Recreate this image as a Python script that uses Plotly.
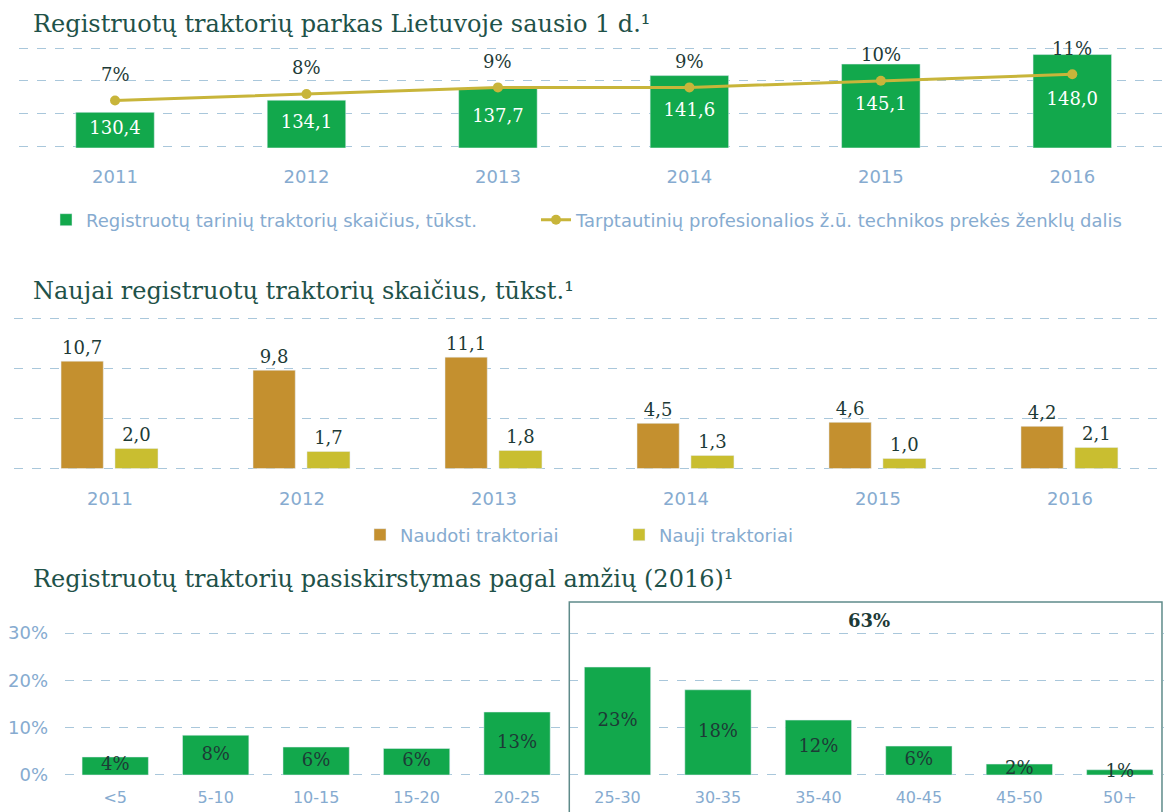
import plotly.graph_objects as go

# ---------------- data ----------------
years = ["2011", "2012", "2013", "2014", "2015", "2016"]
fleet_k = [130.4, 134.1, 137.7, 141.6, 145.1, 148.0]
intl_share = [7, 8, 9, 9, 10, 11]

used_k = [10.7, 9.8, 11.1, 4.5, 4.6, 4.2]
new_k = [2.0, 1.7, 1.8, 1.3, 1.0, 2.1]

age_groups = ["<5", "5-10", "10-15", "15-20", "20-25", "25-30", "30-35", "35-40", "40-45", "45-50", "50+"]
age_share = [3.8, 8.4, 5.9, 5.6, 13.3, 22.8, 18.0, 11.6, 6.1, 2.3, 1.1]
age_ticks = [0, 10, 20, 30]
age_tick_labels = ["0%", "10%", "20%", "30%"]
old_total_label = "63%"

title1 = "Registruotų traktorių parkas Lietuvoje sausio 1 d.¹"
title2 = "Naujai registruotų traktorių skaičius, tūkst.¹"
title3 = "Registruotų traktorių pasiskirstymas pagal amžių (2016)¹"
leg_fleet = "Registruotų tarinių traktorių skaičius, tūkst."
leg_share = "Tarptautinių profesionalios ž.ū. technikos prekės ženklų dalis"
leg_used = "Naudoti traktoriai"
leg_new = "Nauji traktoriai"

# ---------------- style ----------------
BODY = 8                     # default page margin around the figure
FW, FH = 1156, 808
GREEN = "#12a84c"
LINE = "#c8b53a"
BROWN = "#c4902f"
YELLOW = "#c9be30"
GRID = "#a9c7db"
TICK = "#86abd0"
TITLE = "#1f5249"
DARK = "#1d3a36"
SERIF = "DejaVu Serif"
SANS = "DejaVu Sans"
Y1_MIN = 120

def fmt(v):
    return f"{v:.1f}".replace(".", ",")

def px_x(sx):
    return (sx - BODY) / FW

def px_y(sy):
    return 1 - (sy - BODY) / FH

fig = go.Figure()

# --- chart 1 ---
fig.add_trace(go.Bar(x=years, y=fleet_k, marker_color=GREEN, width=0.41,
                     name=leg_fleet, xaxis="x", yaxis="y", legend="legend"))
fig.add_trace(go.Scatter(x=years, y=[(Y1_MIN + v) / 2 for v in fleet_k], mode="text",
                         text=[fmt(v) for v in fleet_k], textfont=dict(family=SERIF, size=18, color="white"),
                         xaxis="x", yaxis="y", showlegend=False, cliponaxis=False, hoverinfo="skip"))
fig.add_trace(go.Scatter(x=years, y=intl_share, mode="lines+markers", name=leg_share,
                         line=dict(color=LINE, width=3), marker=dict(color=LINE, size=10),
                         xaxis="x", yaxis="y2", legend="legend3"))

# --- chart 2 ---
fig.add_trace(go.Bar(x=years, y=used_k, marker_color=BROWN, width=0.22, offset=-0.255,
                     text=[fmt(v) for v in used_k], textposition="outside",
                     textfont=dict(family=SERIF, size=18, color=DARK),
                     name=leg_used, xaxis="x2", yaxis="y3", legend="legend2", cliponaxis=False))
fig.add_trace(go.Bar(x=years, y=new_k, marker_color=YELLOW, width=0.224, offset=0.026,
                     text=[fmt(v) for v in new_k], textposition="outside",
                     textfont=dict(family=SERIF, size=18, color=DARK),
                     name=leg_new, xaxis="x2", yaxis="y3", legend="legend2", cliponaxis=False))

# --- chart 3 ---
fig.add_trace(go.Bar(x=age_groups, y=age_share, marker_color=GREEN, width=0.66,
                     xaxis="x3", yaxis="y4", showlegend=False))
fig.add_trace(go.Scatter(x=age_groups, y=[v / 2 for v in age_share], mode="text",
                         text=[f"{round(v)}%" for v in age_share],
                         textfont=dict(family=SERIF, size=18, color=DARK),
                         xaxis="x3", yaxis="y4", showlegend=False, cliponaxis=False, hoverinfo="skip"))

grid_common = dict(showgrid=True, gridcolor=GRID, griddash="dash", gridwidth=1.3,
                   zeroline=False, showline=False, ticks="", fixedrange=True)
x_common = dict(type="category", showgrid=False, zeroline=False, showline=False, ticks="",
                tickfont=dict(family=SANS, size=18, color=TICK))
leg_common = dict(orientation="h", xanchor="left", yanchor="middle",
                  font=dict(family=SANS, size=18, color=TICK), bgcolor="rgba(0,0,0,0)")

fig.update_layout(
    width=FW, height=FH, margin=dict(l=0, r=0, t=0, b=0, autoexpand=False),
    paper_bgcolor="white", plot_bgcolor="white",
    barmode="overlay",
    xaxis=dict(**x_common, domain=[px_x(19.3), px_x(1164)], range=[-0.5, 5.479],
               anchor="y", ticklabelstandoff=16),
    yaxis=dict(**grid_common, domain=[px_y(147.8), px_y(39.8)], range=[119.6, 152.5],
               tickvals=[120, 130, 140, 150], showticklabels=False),
    yaxis2=dict(overlaying="y", range=[(119.6 - Y1_MIN) / 2, (152.5 - Y1_MIN) / 2],
                visible=False, showgrid=False),
    xaxis2=dict(**x_common, domain=[px_x(14), px_x(1164)], range=[-0.5, 5.49],
                anchor="y3", ticklabelstandoff=16),
    yaxis3=dict(**grid_common, domain=[px_y(470), px_y(313)], range=[-0.15, 15.5],
                tickvals=[0, 5, 10, 15], showticklabels=False, anchor="x2"),
    xaxis3=dict(type="category", showgrid=False, zeroline=False, showline=False, ticks="",
                tickfont=dict(family=SANS, size=16, color=TICK), range=[-0.5, 10.44],
                domain=[px_x(65), px_x(1164)], anchor="y4", ticklabelstandoff=10),
    yaxis4=dict(**grid_common, domain=[px_y(776.4), px_y(618.8)], range=[-0.3, 33],
                tickvals=age_ticks, ticktext=age_tick_labels, anchor="x3",
                tickfont=dict(family=SANS, size=18, color=TICK), ticklabelstandoff=16),
    legend=dict(**leg_common, x=px_x(46), y=px_y(220)),
    legend3=dict(**leg_common, x=px_x(536), y=px_y(220)),
    legend2=dict(**leg_common, x=px_x(360), y=px_y(535), entrywidth=214),
    showlegend=True,
)

# titles (first one anchored at its top so its box stays inside the figure)
fig.add_annotation(text=title1, xref="paper", yref="paper", x=px_x(31), y=1.0,
                   xanchor="left", yanchor="top", showarrow=False,
                   font=dict(family=SERIF, size=24, color=TITLE))
for t, ypx in [(title2, 291), (title3, 579)]:
    fig.add_annotation(text=t, xref="paper", yref="paper", x=px_x(31), y=px_y(ypx),
                       xanchor="left", yanchor="middle", showarrow=False,
                       font=dict(family=SERIF, size=24, color=TITLE))

# percentage labels above the line points
for i, s in enumerate(intl_share):
    fig.add_annotation(x=i, y=s, xref="x", yref="y2", text=f"{s}%", showarrow=False,
                       yshift=26, font=dict(family=SERIF, size=18, color=DARK))

# open-bottom frame around the 25+ age groups
bx0, bx1, by_top, by_bot = 4.52, 10.42, px_y(602), 0.0
fig.add_shape(type="path", xref="x3", yref="paper",
              path=f"M {bx0},{by_bot} L {bx0},{by_top} L {bx1},{by_top} L {bx1},{by_bot}",
              line=dict(color="#5f8b8a", width=1.5), layer="above")
fig.add_annotation(x=7.5, y=32.6, xref="x3", yref="y4", text=f"<b>{old_total_label}</b>",
                   showarrow=False, font=dict(family=SERIF, size=18, color=DARK))

fig.write_html("out.html")
